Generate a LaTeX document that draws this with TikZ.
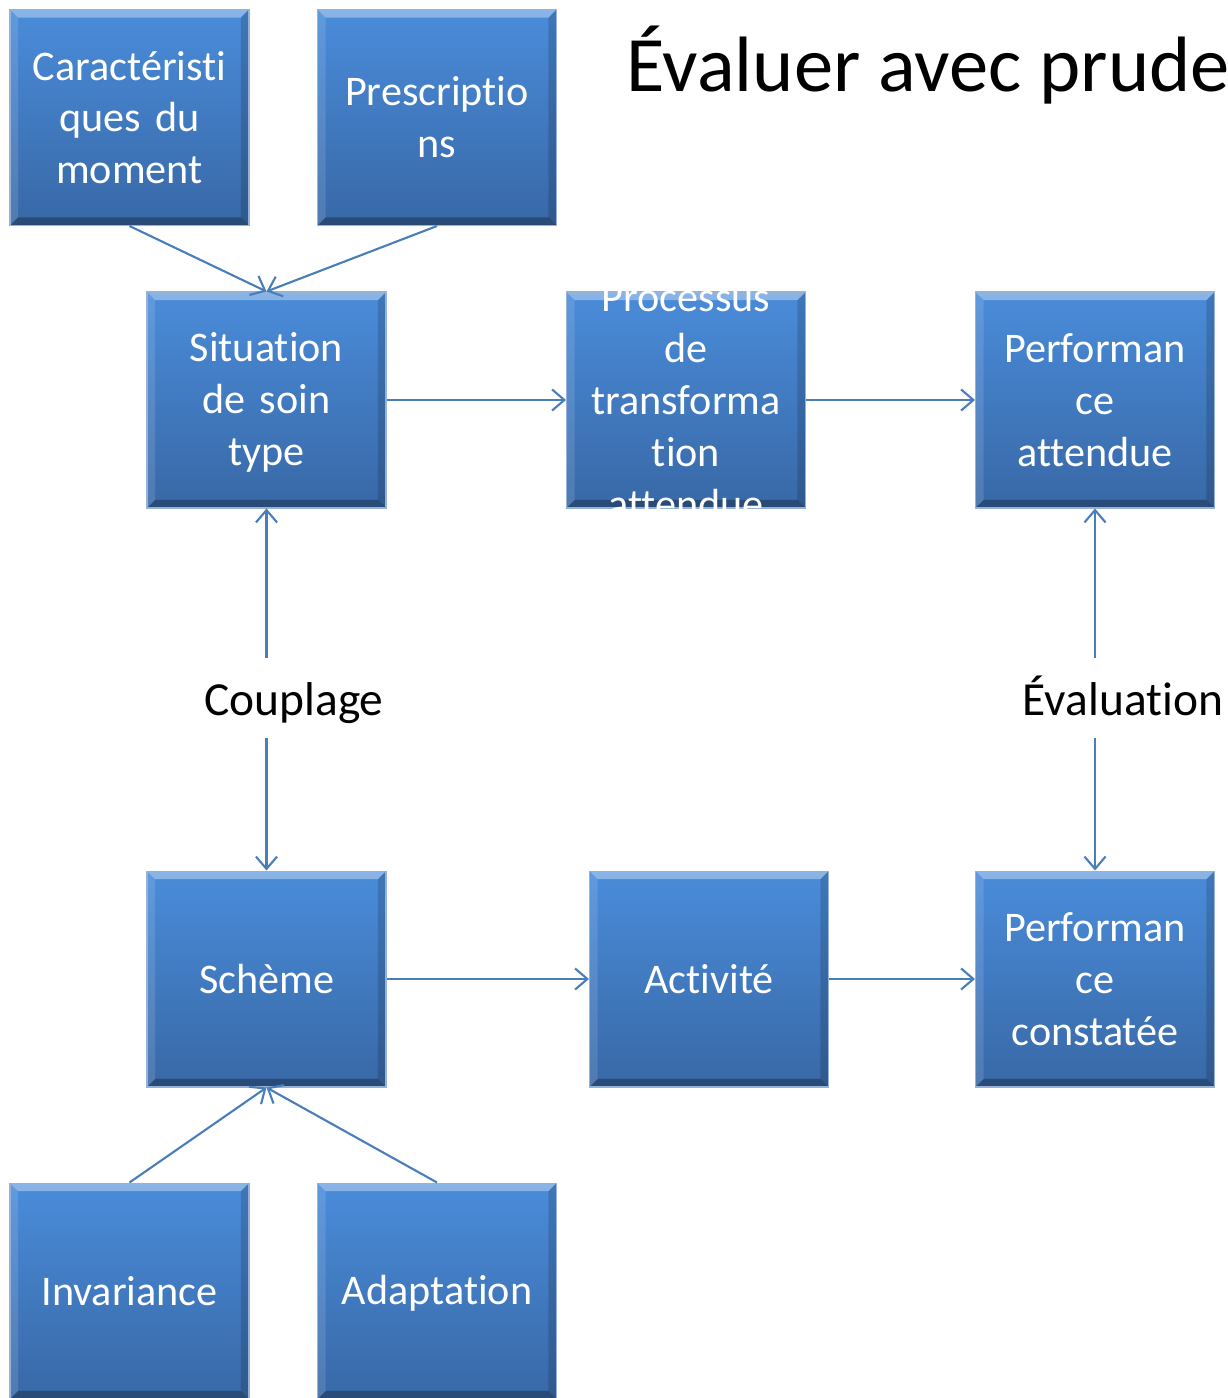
\documentclass[tikz,border=0pt]{standalone}
\usepackage{fontspec}
\setmainfont{Carlito}[RawFeature={-liga,-dlig,-clig}]
\usetikzlibrary{arrows.meta,calc}
\definecolor{boxtop}{RGB}{74,140,218}
\definecolor{boxbot}{RGB}{56,104,166}
\definecolor{boxedge}{RGB}{150,178,215}
\definecolor{arrowc}{RGB}{74,126,187}
\newcommand{\boxtext}[2]{\smash{\raisebox{#1}{\parbox{4.6cm}{\centering #2}}}}
\begin{document}
\begin{tikzpicture}[x=0.02cm,y=-0.02cm,
  box/.style={rectangle, minimum width=4.78cm, minimum height=4.32cm, inner sep=0pt,
    text width=4.6cm, align=center, text=white, font=\fontsize{24}{29.5}\selectfont,
    top color=boxtop, bottom color=boxbot, draw=boxedge, line width=0.6pt,
    path picture={
      \coordinate (nw) at (path picture bounding box.north west);
      \coordinate (ne) at (path picture bounding box.north east);
      \coordinate (sw) at (path picture bounding box.south west);
      \coordinate (se) at (path picture bounding box.south east);
      \fill[white,opacity=0.35] (nw) -- (ne) -- ([shift={(-0.16cm,-0.16cm)}]ne) -- ([shift={(0.16cm,-0.16cm)}]nw) -- cycle;
      \fill[white,opacity=0.12] (nw) -- (sw) -- ([shift={(0.16cm,0.16cm)}]sw) -- ([shift={(0.16cm,-0.16cm)}]nw) -- cycle;
      \fill[black,opacity=0.15] (ne) -- (se) -- ([shift={(-0.16cm,0.16cm)}]se) -- ([shift={(-0.16cm,-0.16cm)}]ne) -- cycle;
      \fill[black,opacity=0.28] (sw) -- (se) -- ([shift={(-0.16cm,0.16cm)}]se) -- ([shift={(0.16cm,0.16cm)}]sw) -- cycle;
    }},
  arr/.style={draw=arrowc, line width=1.2pt, -{Straight Barb[length=7pt,width=12pt]}},
  lab/.style={font=\fontsize{27}{32}\selectfont, anchor=base, inner sep=0pt, text height=1.14cm, text depth=0.46cm}
]
\useasboundingbox (0,0) rectangle (1227,1398);

\node[box] (car) at (129.5,117.5) {Caractéristi\\ques du\\moment};
\node[box] (pre) at (437,117.5) {Prescriptio\\ns};
\node[box] (sit) at (266.5,400) {\boxtext{-7.5pt}{Situation\\de soin\\type}};
\node[box] (pro) at (686,400) {\boxtext{-7pt}{Processus\\de\\transforma\\tion\\attendue}};
\node[box] (pat) at (1095,400) {Performan\\ce\\attendue};
\node[box] (sch) at (266.5,979) {Schème};
\node[box] (act) at (709,979) {Activité};
\node[box] (pco) at (1095,979) {Performan\\ce\\constatée};
\node[box] (inv) at (129.5,1291) {Invariance};
\node[box] (ada) at (437,1291) {\boxtext{-7.5pt}{Adaptation}};

\node[lab] (cou) at (294,715) {Couplage};
\node[lab] (eva) at (1123,715) {Évaluation};

\node[anchor=base west, inner sep=0pt, font=\fontsize{44.7}{54}\selectfont] (title) at (626,92) {Évaluer avec prude};

\draw[arr] (car.south) -- (sit.north);
\draw[arr] (pre.south) -- (sit.north);
\draw[arr] (sit.east) -- (pro.west);
\draw[arr] (pro.east) -- (pat.west);
\draw[arr] (cou.north -| sit.south) -- (sit.south);
\draw[arr] (cou.south -| sit.south) -- (sch.north);
\draw[arr] (eva.north -| pat.south) -- (pat.south);
\draw[arr] (eva.south -| pat.south) -- (pco.north);
\draw[arr] (sch.east) -- (act.west);
\draw[arr] (act.east) -- (pco.west);
\draw[arr] (inv.north) -- (sch.south);
\draw[arr] (ada.north) -- (sch.south);
\end{tikzpicture}
\end{document}
